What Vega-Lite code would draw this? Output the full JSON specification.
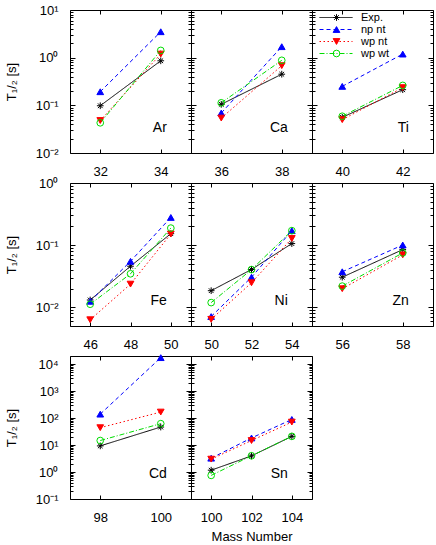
{
"$schema": "https://vega.github.io/schema/vega-lite/v6.json",
"padding": {"left": 4, "top": 3, "right": 0, "bottom": 0},
"background": "white",
"data": {"values": [
{"el":"Ar","A":32,"s":"Exp.","T":0.098},{"el":"Ar","A":34,"s":"Exp.","T":0.86},
{"el":"Ar","A":32,"s":"np nt","T":0.193},{"el":"Ar","A":34,"s":"np nt","T":3.5},
{"el":"Ar","A":32,"s":"wp nt","T":0.048},{"el":"Ar","A":34,"s":"wp nt","T":1.19},
{"el":"Ar","A":32,"s":"wp wt","T":0.043},{"el":"Ar","A":34,"s":"wp wt","T":1.42},
{"el":"Ca","A":36,"s":"Exp.","T":0.105},{"el":"Ca","A":38,"s":"Exp.","T":0.45},
{"el":"Ca","A":36,"s":"np nt","T":0.069},{"el":"Ca","A":38,"s":"np nt","T":1.7},
{"el":"Ca","A":36,"s":"wp nt","T":0.054},{"el":"Ca","A":38,"s":"wp nt","T":0.68},
{"el":"Ca","A":36,"s":"wp wt","T":0.113},{"el":"Ca","A":38,"s":"wp wt","T":0.88},
{"el":"Ti","A":40,"s":"Exp.","T":0.056},{"el":"Ti","A":42,"s":"Exp.","T":0.213},
{"el":"Ti","A":40,"s":"np nt","T":0.25},{"el":"Ti","A":42,"s":"np nt","T":1.19},
{"el":"Ti","A":40,"s":"wp nt","T":0.05},{"el":"Ti","A":42,"s":"wp nt","T":0.235},
{"el":"Ti","A":40,"s":"wp wt","T":0.059},{"el":"Ti","A":42,"s":"wp wt","T":0.262},
{"el":"Fe","A":46,"s":"Exp.","T":0.0131},{"el":"Fe","A":48,"s":"Exp.","T":0.0458},{"el":"Fe","A":50,"s":"Exp.","T":0.153},
{"el":"Fe","A":46,"s":"np nt","T":0.0125},{"el":"Fe","A":48,"s":"np nt","T":0.055},{"el":"Fe","A":50,"s":"np nt","T":0.279},
{"el":"Fe","A":46,"s":"wp nt","T":0.0063},{"el":"Fe","A":48,"s":"wp nt","T":0.0236},{"el":"Fe","A":50,"s":"wp nt","T":0.151},
{"el":"Fe","A":46,"s":"wp wt","T":0.0112},{"el":"Fe","A":48,"s":"wp wt","T":0.0346},{"el":"Fe","A":50,"s":"wp wt","T":0.188},
{"el":"Ni","A":50,"s":"Exp.","T":0.0185},{"el":"Ni","A":52,"s":"Exp.","T":0.0406},{"el":"Ni","A":54,"s":"Exp.","T":0.106},
{"el":"Ni","A":50,"s":"np nt","T":0.0071},{"el":"Ni","A":52,"s":"np nt","T":0.0305},{"el":"Ni","A":54,"s":"np nt","T":0.171},
{"el":"Ni","A":50,"s":"wp nt","T":0.0064},{"el":"Ni","A":52,"s":"wp nt","T":0.0248},{"el":"Ni","A":54,"s":"wp nt","T":0.128},
{"el":"Ni","A":50,"s":"wp wt","T":0.0119},{"el":"Ni","A":52,"s":"wp wt","T":0.0404},{"el":"Ni","A":54,"s":"wp wt","T":0.171},
{"el":"Zn","A":56,"s":"Exp.","T":0.0305},{"el":"Zn","A":58,"s":"Exp.","T":0.0848},
{"el":"Zn","A":56,"s":"np nt","T":0.0373},{"el":"Zn","A":58,"s":"np nt","T":0.1006},
{"el":"Zn","A":56,"s":"wp nt","T":0.0199},{"el":"Zn","A":58,"s":"wp nt","T":0.0697},
{"el":"Zn","A":56,"s":"wp wt","T":0.0219},{"el":"Zn","A":58,"s":"wp wt","T":0.075},
{"el":"Cd","A":98,"s":"Exp.","T":9.3},{"el":"Cd","A":100,"s":"Exp.","T":46.5},
{"el":"Cd","A":98,"s":"np nt","T":140},{"el":"Cd","A":100,"s":"np nt","T":17400},
{"el":"Cd","A":98,"s":"wp nt","T":44},{"el":"Cd","A":100,"s":"wp nt","T":167},
{"el":"Cd","A":98,"s":"wp wt","T":14.7},{"el":"Cd","A":100,"s":"wp wt","T":62},
{"el":"Sn","A":100,"s":"Exp.","T":1.17},{"el":"Sn","A":102,"s":"Exp.","T":3.96},{"el":"Sn","A":104,"s":"Exp.","T":21},
{"el":"Sn","A":100,"s":"np nt","T":3.26},{"el":"Sn","A":102,"s":"np nt","T":18.3},{"el":"Sn","A":104,"s":"np nt","T":89},
{"el":"Sn","A":100,"s":"wp nt","T":3.0},{"el":"Sn","A":102,"s":"wp nt","T":14.7},{"el":"Sn","A":104,"s":"wp nt","T":71},
{"el":"Sn","A":100,"s":"wp wt","T":0.75},{"el":"Sn","A":102,"s":"wp wt","T":4.0},{"el":"Sn","A":104,"s":"wp wt","T":21}
]},
"columns": 3,
"spacing": {"row": 30, "column": 0},
"bounds": "flush",
"concat": [
{"width":121,"height":143,"transform":[{"filter":"datum.el === 'Ar'"}],
 "layer":[
  {"mark":{"type":"line","strokeWidth":1},"encoding":{
   "x":{"field":"A","type":"quantitative","scale":{"domain":[31,35],"nice":false,"zero":false},"axis":{"orient":"bottom","values":[32,34],"tickSize":-4,"labelPadding":16,"title":null}},
   "y":{"field":"T","type":"quantitative","scale":{"type":"log","domain":[0.01,10],"nice":false},"axis":{"orient":"left","values":[0.01,0.02,0.03,0.04,0.05,0.06,0.07,0.08,0.09,0.1,0.2,0.3,0.4,0.5,0.6,0.7,0.8,0.9,1,2,3,4,5,6,7,8,9,10],"labelExpr":"abs(log(datum.value)/LN10 - round(log(datum.value)/LN10)) < 0.001 ? '10' + (round(log(datum.value)/LN10) < 0 ? '⁻' : '') + ['⁰','¹','²','³','⁴'][abs(round(log(datum.value)/LN10))] : ''","tickSize":{"condition":{"test":"abs(log(datum.value)/LN10 - round(log(datum.value)/LN10)) < 0.001","value":-5},"value":-3},"labelPadding":17,"title":"T₁/₂ [s]","titlePadding":17}},
   "color":{"field":"s","type":"nominal","scale":{"range":["#000000","#0000ff","#ff0000","#00dd00"]},"legend":{"title":null,"orient":"none","legendX":249,"legendY":2,"symbolType":"stroke","symbolSize":1089,"symbolStrokeWidth":1,"labelOffset":8,"rowPadding":0,"clipHeight":11,"padding":0,"labelFontSize":11}},
   "strokeDash":{"field":"s","type":"nominal","scale":{"range":[[1,0],[4,3],[1.5,2.5],[5,2,1,2]]}}}},
  {"mark":{"type":"point","opacity":1,"strokeWidth":1,"size":45},"encoding":{
   "x":{"field":"A","type":"quantitative","axis":null},"y":{"field":"T","type":"quantitative","axis":null},
   "shape":{"field":"s","type":"nominal","scale":{"domain":["Exp.","np nt","wp nt","wp wt"],"range":["M-1,0L1,0M0,-1L0,1M-0.7,-0.7L0.7,0.7M-0.7,0.7L0.7,-0.7","triangle-up","triangle-down","circle"]},"legend":{"title":null,"orient":"none","legendX":261,"legendY":2,"labelExpr":"''","symbolSize":45,"symbolStrokeWidth":1,"rowPadding":0,"clipHeight":11,"padding":0,"labelFontSize":11}},
   "fill":{"field":"s","type":"nominal","scale":{"domain":["Exp.","np nt","wp nt","wp wt"],"range":["transparent","#0000ff","#ff0000","transparent"]}},
   "stroke":{"field":"s","type":"nominal","scale":{"domain":["Exp.","np nt","wp nt","wp wt"],"range":["#000000","#0000ff","#ff0000","#00dd00"]}}}},
  {"transform":[{"aggregate":[{"op":"count","as":"n"}],"groupby":["el"]}],"mark":{"type":"text","align":"right","baseline":"alphabetic","fontSize":14,"font":"Liberation Sans","color":"black"},"encoding":{
   "x":{"datum":34.2,"type":"quantitative","axis":null},"y":{"datum":0.0277,"type":"quantitative","axis":null},"text":{"field":"el","type":"nominal"}}},
  {"mark":{"type":"point","opacity":0},"encoding":{
   "x":{"field":"A","type":"quantitative","axis":{"orient":"top","values":[32,34],"labels":false,"tickSize":-4,"title":null}},
   "y":{"field":"T","type":"quantitative","axis":{"orient":"right","values":[0.01,0.02,0.03,0.04,0.05,0.06,0.07,0.08,0.09,0.1,0.2,0.3,0.4,0.5,0.6,0.7,0.8,0.9,1,2,3,4,5,6,7,8,9,10],"labels":false,"tickSize":{"condition":{"test":"abs(log(datum.value)/LN10 - round(log(datum.value)/LN10)) < 0.001","value":-5},"value":-3},"title":null}}}}
 ],
 "resolve":{"axis":{"x":"independent","y":"independent"}}},
{"width":121,"height":143,"transform":[{"filter":"datum.el === 'Ca'"}],
 "layer":[
  {"mark":{"type":"line","strokeWidth":1},"encoding":{
   "x":{"field":"A","type":"quantitative","scale":{"domain":[35,39],"nice":false,"zero":false},"axis":{"orient":"bottom","values":[36,38],"tickSize":-4,"labelPadding":16,"title":null}},
   "y":{"field":"T","type":"quantitative","scale":{"type":"log","domain":[0.01,10],"nice":false},"axis":{"orient":"left","values":[0.01,0.02,0.03,0.04,0.05,0.06,0.07,0.08,0.09,0.1,0.2,0.3,0.4,0.5,0.6,0.7,0.8,0.9,1,2,3,4,5,6,7,8,9,10],"labels":false,"tickSize":{"condition":{"test":"abs(log(datum.value)/LN10 - round(log(datum.value)/LN10)) < 0.001","value":-5},"value":-3},"title":null}},
   "color":{"field":"s","type":"nominal","scale":{"range":["#000000","#0000ff","#ff0000","#00dd00"]},"legend":{"title":null,"orient":"none","legendX":249,"legendY":2,"symbolType":"stroke","symbolSize":1089,"symbolStrokeWidth":1,"labelOffset":8,"rowPadding":0,"clipHeight":11,"padding":0,"labelFontSize":11}},
   "strokeDash":{"field":"s","type":"nominal","scale":{"range":[[1,0],[4,3],[1.5,2.5],[5,2,1,2]]}}}},
  {"mark":{"type":"point","opacity":1,"strokeWidth":1,"size":45},"encoding":{
   "x":{"field":"A","type":"quantitative","axis":null},"y":{"field":"T","type":"quantitative","axis":null},
   "shape":{"field":"s","type":"nominal","scale":{"domain":["Exp.","np nt","wp nt","wp wt"],"range":["M-1,0L1,0M0,-1L0,1M-0.7,-0.7L0.7,0.7M-0.7,0.7L0.7,-0.7","triangle-up","triangle-down","circle"]},"legend":{"title":null,"orient":"none","legendX":261,"legendY":2,"labelExpr":"''","symbolSize":45,"symbolStrokeWidth":1,"rowPadding":0,"clipHeight":11,"padding":0,"labelFontSize":11}},
   "fill":{"field":"s","type":"nominal","scale":{"domain":["Exp.","np nt","wp nt","wp wt"],"range":["transparent","#0000ff","#ff0000","transparent"]}},
   "stroke":{"field":"s","type":"nominal","scale":{"domain":["Exp.","np nt","wp nt","wp wt"],"range":["#000000","#0000ff","#ff0000","#00dd00"]}}}},
  {"transform":[{"aggregate":[{"op":"count","as":"n"}],"groupby":["el"]}],"mark":{"type":"text","align":"right","baseline":"alphabetic","fontSize":14,"font":"Liberation Sans","color":"black"},"encoding":{
   "x":{"datum":38.2,"type":"quantitative","axis":null},"y":{"datum":0.0277,"type":"quantitative","axis":null},"text":{"field":"el","type":"nominal"}}},
  {"mark":{"type":"point","opacity":0},"encoding":{
   "x":{"field":"A","type":"quantitative","axis":{"orient":"top","values":[36,38],"labels":false,"tickSize":-4,"title":null}},
   "y":{"field":"T","type":"quantitative","axis":{"orient":"right","values":[0.01,0.02,0.03,0.04,0.05,0.06,0.07,0.08,0.09,0.1,0.2,0.3,0.4,0.5,0.6,0.7,0.8,0.9,1,2,3,4,5,6,7,8,9,10],"labels":false,"tickSize":{"condition":{"test":"abs(log(datum.value)/LN10 - round(log(datum.value)/LN10)) < 0.001","value":-5},"value":-3},"title":null}}}}
 ],
 "resolve":{"axis":{"x":"independent","y":"independent"}}},
{"width":121,"height":143,"transform":[{"filter":"datum.el === 'Ti'"}],
 "layer":[
  {"mark":{"type":"line","strokeWidth":1},"encoding":{
   "x":{"field":"A","type":"quantitative","scale":{"domain":[39,43],"nice":false,"zero":false},"axis":{"orient":"bottom","values":[40,42],"tickSize":-4,"labelPadding":16,"title":null}},
   "y":{"field":"T","type":"quantitative","scale":{"type":"log","domain":[0.01,10],"nice":false},"axis":{"orient":"left","values":[0.01,0.02,0.03,0.04,0.05,0.06,0.07,0.08,0.09,0.1,0.2,0.3,0.4,0.5,0.6,0.7,0.8,0.9,1,2,3,4,5,6,7,8,9,10],"labels":false,"tickSize":{"condition":{"test":"abs(log(datum.value)/LN10 - round(log(datum.value)/LN10)) < 0.001","value":-5},"value":-3},"title":null}},
   "color":{"field":"s","type":"nominal","scale":{"range":["#000000","#0000ff","#ff0000","#00dd00"]},"legend":{"title":null,"orient":"none","legendX":249,"legendY":2,"symbolType":"stroke","symbolSize":1089,"symbolStrokeWidth":1,"labelOffset":8,"rowPadding":0,"clipHeight":11,"padding":0,"labelFontSize":11}},
   "strokeDash":{"field":"s","type":"nominal","scale":{"range":[[1,0],[4,3],[1.5,2.5],[5,2,1,2]]}}}},
  {"mark":{"type":"point","opacity":1,"strokeWidth":1,"size":45},"encoding":{
   "x":{"field":"A","type":"quantitative","axis":null},"y":{"field":"T","type":"quantitative","axis":null},
   "shape":{"field":"s","type":"nominal","scale":{"domain":["Exp.","np nt","wp nt","wp wt"],"range":["M-1,0L1,0M0,-1L0,1M-0.7,-0.7L0.7,0.7M-0.7,0.7L0.7,-0.7","triangle-up","triangle-down","circle"]},"legend":{"title":null,"orient":"none","legendX":261,"legendY":2,"labelExpr":"''","symbolSize":45,"symbolStrokeWidth":1,"rowPadding":0,"clipHeight":11,"padding":0,"labelFontSize":11}},
   "fill":{"field":"s","type":"nominal","scale":{"domain":["Exp.","np nt","wp nt","wp wt"],"range":["transparent","#0000ff","#ff0000","transparent"]}},
   "stroke":{"field":"s","type":"nominal","scale":{"domain":["Exp.","np nt","wp nt","wp wt"],"range":["#000000","#0000ff","#ff0000","#00dd00"]}}}},
  {"transform":[{"aggregate":[{"op":"count","as":"n"}],"groupby":["el"]}],"mark":{"type":"text","align":"right","baseline":"alphabetic","fontSize":14,"font":"Liberation Sans","color":"black"},"encoding":{
   "x":{"datum":42.2,"type":"quantitative","axis":null},"y":{"datum":0.0277,"type":"quantitative","axis":null},"text":{"field":"el","type":"nominal"}}},
  {"mark":{"type":"point","opacity":0},"encoding":{
   "x":{"field":"A","type":"quantitative","axis":{"orient":"top","values":[40,42],"labels":false,"tickSize":-4,"title":null}},
   "y":{"field":"T","type":"quantitative","axis":{"orient":"right","values":[0.01,0.02,0.03,0.04,0.05,0.06,0.07,0.08,0.09,0.1,0.2,0.3,0.4,0.5,0.6,0.7,0.8,0.9,1,2,3,4,5,6,7,8,9,10],"labels":false,"tickSize":{"condition":{"test":"abs(log(datum.value)/LN10 - round(log(datum.value)/LN10)) < 0.001","value":-5},"value":-3},"title":null}}}}
 ],
 "resolve":{"axis":{"x":"independent","y":"independent"}}},
{"width":121,"height":143,"transform":[{"filter":"datum.el === 'Fe'"}],
 "layer":[
  {"mark":{"type":"line","strokeWidth":1},"encoding":{
   "x":{"field":"A","type":"quantitative","scale":{"domain":[45,51],"nice":false,"zero":false},"axis":{"orient":"bottom","values":[46,48,50],"tickSize":-4,"labelPadding":16,"title":null}},
   "y":{"field":"T","type":"quantitative","scale":{"type":"log","domain":[0.005,1],"nice":false},"axis":{"orient":"left","values":[0.005,0.006,0.007,0.008,0.009,0.01,0.02,0.03,0.04,0.05,0.06,0.07,0.08,0.09,0.1,0.2,0.3,0.4,0.5,0.6,0.7,0.8,0.9,1],"labelExpr":"abs(log(datum.value)/LN10 - round(log(datum.value)/LN10)) < 0.001 ? '10' + (round(log(datum.value)/LN10) < 0 ? '⁻' : '') + ['⁰','¹','²','³','⁴'][abs(round(log(datum.value)/LN10))] : ''","tickSize":{"condition":{"test":"abs(log(datum.value)/LN10 - round(log(datum.value)/LN10)) < 0.001","value":-5},"value":-3},"labelPadding":17,"title":"T₁/₂ [s]","titlePadding":17}},
   "color":{"field":"s","type":"nominal","scale":{"range":["#000000","#0000ff","#ff0000","#00dd00"]},"legend":{"title":null,"orient":"none","legendX":249,"legendY":2,"symbolType":"stroke","symbolSize":1089,"symbolStrokeWidth":1,"labelOffset":8,"rowPadding":0,"clipHeight":11,"padding":0,"labelFontSize":11}},
   "strokeDash":{"field":"s","type":"nominal","scale":{"range":[[1,0],[4,3],[1.5,2.5],[5,2,1,2]]}}}},
  {"mark":{"type":"point","opacity":1,"strokeWidth":1,"size":45},"encoding":{
   "x":{"field":"A","type":"quantitative","axis":null},"y":{"field":"T","type":"quantitative","axis":null},
   "shape":{"field":"s","type":"nominal","scale":{"domain":["Exp.","np nt","wp nt","wp wt"],"range":["M-1,0L1,0M0,-1L0,1M-0.7,-0.7L0.7,0.7M-0.7,0.7L0.7,-0.7","triangle-up","triangle-down","circle"]},"legend":{"title":null,"orient":"none","legendX":261,"legendY":2,"labelExpr":"''","symbolSize":45,"symbolStrokeWidth":1,"rowPadding":0,"clipHeight":11,"padding":0,"labelFontSize":11}},
   "fill":{"field":"s","type":"nominal","scale":{"domain":["Exp.","np nt","wp nt","wp wt"],"range":["transparent","#0000ff","#ff0000","transparent"]}},
   "stroke":{"field":"s","type":"nominal","scale":{"domain":["Exp.","np nt","wp nt","wp wt"],"range":["#000000","#0000ff","#ff0000","#00dd00"]}}}},
  {"transform":[{"aggregate":[{"op":"count","as":"n"}],"groupby":["el"]}],"mark":{"type":"text","align":"right","baseline":"alphabetic","fontSize":14,"font":"Liberation Sans","color":"black"},"encoding":{
   "x":{"datum":49.8,"type":"quantitative","axis":null},"y":{"datum":0.0109,"type":"quantitative","axis":null},"text":{"field":"el","type":"nominal"}}},
  {"mark":{"type":"point","opacity":0},"encoding":{
   "x":{"field":"A","type":"quantitative","axis":{"orient":"top","values":[46,48,50],"labels":false,"tickSize":-4,"title":null}},
   "y":{"field":"T","type":"quantitative","axis":{"orient":"right","values":[0.005,0.006,0.007,0.008,0.009,0.01,0.02,0.03,0.04,0.05,0.06,0.07,0.08,0.09,0.1,0.2,0.3,0.4,0.5,0.6,0.7,0.8,0.9,1],"labels":false,"tickSize":{"condition":{"test":"abs(log(datum.value)/LN10 - round(log(datum.value)/LN10)) < 0.001","value":-5},"value":-3},"title":null}}}}
 ],
 "resolve":{"axis":{"x":"independent","y":"independent"}}},
{"width":121,"height":143,"transform":[{"filter":"datum.el === 'Ni'"}],
 "layer":[
  {"mark":{"type":"line","strokeWidth":1},"encoding":{
   "x":{"field":"A","type":"quantitative","scale":{"domain":[49,55],"nice":false,"zero":false},"axis":{"orient":"bottom","values":[50,52,54],"tickSize":-4,"labelPadding":16,"title":null}},
   "y":{"field":"T","type":"quantitative","scale":{"type":"log","domain":[0.005,1],"nice":false},"axis":{"orient":"left","values":[0.005,0.006,0.007,0.008,0.009,0.01,0.02,0.03,0.04,0.05,0.06,0.07,0.08,0.09,0.1,0.2,0.3,0.4,0.5,0.6,0.7,0.8,0.9,1],"labels":false,"tickSize":{"condition":{"test":"abs(log(datum.value)/LN10 - round(log(datum.value)/LN10)) < 0.001","value":-5},"value":-3},"title":null}},
   "color":{"field":"s","type":"nominal","scale":{"range":["#000000","#0000ff","#ff0000","#00dd00"]},"legend":{"title":null,"orient":"none","legendX":249,"legendY":2,"symbolType":"stroke","symbolSize":1089,"symbolStrokeWidth":1,"labelOffset":8,"rowPadding":0,"clipHeight":11,"padding":0,"labelFontSize":11}},
   "strokeDash":{"field":"s","type":"nominal","scale":{"range":[[1,0],[4,3],[1.5,2.5],[5,2,1,2]]}}}},
  {"mark":{"type":"point","opacity":1,"strokeWidth":1,"size":45},"encoding":{
   "x":{"field":"A","type":"quantitative","axis":null},"y":{"field":"T","type":"quantitative","axis":null},
   "shape":{"field":"s","type":"nominal","scale":{"domain":["Exp.","np nt","wp nt","wp wt"],"range":["M-1,0L1,0M0,-1L0,1M-0.7,-0.7L0.7,0.7M-0.7,0.7L0.7,-0.7","triangle-up","triangle-down","circle"]},"legend":{"title":null,"orient":"none","legendX":261,"legendY":2,"labelExpr":"''","symbolSize":45,"symbolStrokeWidth":1,"rowPadding":0,"clipHeight":11,"padding":0,"labelFontSize":11}},
   "fill":{"field":"s","type":"nominal","scale":{"domain":["Exp.","np nt","wp nt","wp wt"],"range":["transparent","#0000ff","#ff0000","transparent"]}},
   "stroke":{"field":"s","type":"nominal","scale":{"domain":["Exp.","np nt","wp nt","wp wt"],"range":["#000000","#0000ff","#ff0000","#00dd00"]}}}},
  {"transform":[{"aggregate":[{"op":"count","as":"n"}],"groupby":["el"]}],"mark":{"type":"text","align":"right","baseline":"alphabetic","fontSize":14,"font":"Liberation Sans","color":"black"},"encoding":{
   "x":{"datum":53.8,"type":"quantitative","axis":null},"y":{"datum":0.0109,"type":"quantitative","axis":null},"text":{"field":"el","type":"nominal"}}},
  {"mark":{"type":"point","opacity":0},"encoding":{
   "x":{"field":"A","type":"quantitative","axis":{"orient":"top","values":[50,52,54],"labels":false,"tickSize":-4,"title":null}},
   "y":{"field":"T","type":"quantitative","axis":{"orient":"right","values":[0.005,0.006,0.007,0.008,0.009,0.01,0.02,0.03,0.04,0.05,0.06,0.07,0.08,0.09,0.1,0.2,0.3,0.4,0.5,0.6,0.7,0.8,0.9,1],"labels":false,"tickSize":{"condition":{"test":"abs(log(datum.value)/LN10 - round(log(datum.value)/LN10)) < 0.001","value":-5},"value":-3},"title":null}}}}
 ],
 "resolve":{"axis":{"x":"independent","y":"independent"}}},
{"width":121,"height":143,"transform":[{"filter":"datum.el === 'Zn'"}],
 "layer":[
  {"mark":{"type":"line","strokeWidth":1},"encoding":{
   "x":{"field":"A","type":"quantitative","scale":{"domain":[55,59],"nice":false,"zero":false},"axis":{"orient":"bottom","values":[56,58],"tickSize":-4,"labelPadding":16,"title":null}},
   "y":{"field":"T","type":"quantitative","scale":{"type":"log","domain":[0.005,1],"nice":false},"axis":{"orient":"left","values":[0.005,0.006,0.007,0.008,0.009,0.01,0.02,0.03,0.04,0.05,0.06,0.07,0.08,0.09,0.1,0.2,0.3,0.4,0.5,0.6,0.7,0.8,0.9,1],"labels":false,"tickSize":{"condition":{"test":"abs(log(datum.value)/LN10 - round(log(datum.value)/LN10)) < 0.001","value":-5},"value":-3},"title":null}},
   "color":{"field":"s","type":"nominal","scale":{"range":["#000000","#0000ff","#ff0000","#00dd00"]},"legend":{"title":null,"orient":"none","legendX":249,"legendY":2,"symbolType":"stroke","symbolSize":1089,"symbolStrokeWidth":1,"labelOffset":8,"rowPadding":0,"clipHeight":11,"padding":0,"labelFontSize":11}},
   "strokeDash":{"field":"s","type":"nominal","scale":{"range":[[1,0],[4,3],[1.5,2.5],[5,2,1,2]]}}}},
  {"mark":{"type":"point","opacity":1,"strokeWidth":1,"size":45},"encoding":{
   "x":{"field":"A","type":"quantitative","axis":null},"y":{"field":"T","type":"quantitative","axis":null},
   "shape":{"field":"s","type":"nominal","scale":{"domain":["Exp.","np nt","wp nt","wp wt"],"range":["M-1,0L1,0M0,-1L0,1M-0.7,-0.7L0.7,0.7M-0.7,0.7L0.7,-0.7","triangle-up","triangle-down","circle"]},"legend":{"title":null,"orient":"none","legendX":261,"legendY":2,"labelExpr":"''","symbolSize":45,"symbolStrokeWidth":1,"rowPadding":0,"clipHeight":11,"padding":0,"labelFontSize":11}},
   "fill":{"field":"s","type":"nominal","scale":{"domain":["Exp.","np nt","wp nt","wp wt"],"range":["transparent","#0000ff","#ff0000","transparent"]}},
   "stroke":{"field":"s","type":"nominal","scale":{"domain":["Exp.","np nt","wp nt","wp wt"],"range":["#000000","#0000ff","#ff0000","#00dd00"]}}}},
  {"transform":[{"aggregate":[{"op":"count","as":"n"}],"groupby":["el"]}],"mark":{"type":"text","align":"right","baseline":"alphabetic","fontSize":14,"font":"Liberation Sans","color":"black"},"encoding":{
   "x":{"datum":58.2,"type":"quantitative","axis":null},"y":{"datum":0.0109,"type":"quantitative","axis":null},"text":{"field":"el","type":"nominal"}}},
  {"mark":{"type":"point","opacity":0},"encoding":{
   "x":{"field":"A","type":"quantitative","axis":{"orient":"top","values":[56,58],"labels":false,"tickSize":-4,"title":null}},
   "y":{"field":"T","type":"quantitative","axis":{"orient":"right","values":[0.005,0.006,0.007,0.008,0.009,0.01,0.02,0.03,0.04,0.05,0.06,0.07,0.08,0.09,0.1,0.2,0.3,0.4,0.5,0.6,0.7,0.8,0.9,1],"labels":false,"tickSize":{"condition":{"test":"abs(log(datum.value)/LN10 - round(log(datum.value)/LN10)) < 0.001","value":-5},"value":-3},"title":null}}}}
 ],
 "resolve":{"axis":{"x":"independent","y":"independent"}}},
{"width":121,"height":143,"transform":[{"filter":"datum.el === 'Cd'"}],
 "layer":[
  {"mark":{"type":"line","strokeWidth":1},"encoding":{
   "x":{"field":"A","type":"quantitative","scale":{"domain":[97,101],"nice":false,"zero":false},"axis":{"orient":"bottom","values":[98,100],"tickSize":-4,"labelPadding":16,"title":null}},
   "y":{"field":"T","type":"quantitative","scale":{"type":"log","domain":[0.1,20000],"nice":false},"axis":{"orient":"left","values":[0.1,0.2,0.3,0.4,0.5,0.6,0.7,0.8,0.9,1,2,3,4,5,6,7,8,9,10,20,30,40,50,60,70,80,90,100,200,300,400,500,600,700,800,900,1000,2000,3000,4000,5000,6000,7000,8000,9000,10000,20000],"labelExpr":"abs(log(datum.value)/LN10 - round(log(datum.value)/LN10)) < 0.001 ? '10' + (round(log(datum.value)/LN10) < 0 ? '⁻' : '') + ['⁰','¹','²','³','⁴'][abs(round(log(datum.value)/LN10))] : ''","tickSize":{"condition":{"test":"abs(log(datum.value)/LN10 - round(log(datum.value)/LN10)) < 0.001","value":-5},"value":-3},"labelPadding":17,"title":"T₁/₂ [s]","titlePadding":17}},
   "color":{"field":"s","type":"nominal","scale":{"range":["#000000","#0000ff","#ff0000","#00dd00"]},"legend":{"title":null,"orient":"none","legendX":249,"legendY":2,"symbolType":"stroke","symbolSize":1089,"symbolStrokeWidth":1,"labelOffset":8,"rowPadding":0,"clipHeight":11,"padding":0,"labelFontSize":11}},
   "strokeDash":{"field":"s","type":"nominal","scale":{"range":[[1,0],[4,3],[1.5,2.5],[5,2,1,2]]}}}},
  {"mark":{"type":"point","opacity":1,"strokeWidth":1,"size":45},"encoding":{
   "x":{"field":"A","type":"quantitative","axis":null},"y":{"field":"T","type":"quantitative","axis":null},
   "shape":{"field":"s","type":"nominal","scale":{"domain":["Exp.","np nt","wp nt","wp wt"],"range":["M-1,0L1,0M0,-1L0,1M-0.7,-0.7L0.7,0.7M-0.7,0.7L0.7,-0.7","triangle-up","triangle-down","circle"]},"legend":{"title":null,"orient":"none","legendX":261,"legendY":2,"labelExpr":"''","symbolSize":45,"symbolStrokeWidth":1,"rowPadding":0,"clipHeight":11,"padding":0,"labelFontSize":11}},
   "fill":{"field":"s","type":"nominal","scale":{"domain":["Exp.","np nt","wp nt","wp wt"],"range":["transparent","#0000ff","#ff0000","transparent"]}},
   "stroke":{"field":"s","type":"nominal","scale":{"domain":["Exp.","np nt","wp nt","wp wt"],"range":["#000000","#0000ff","#ff0000","#00dd00"]}}}},
  {"transform":[{"aggregate":[{"op":"count","as":"n"}],"groupby":["el"]}],"mark":{"type":"text","align":"right","baseline":"alphabetic","fontSize":14,"font":"Liberation Sans","color":"black"},"encoding":{
   "x":{"datum":100.2,"type":"quantitative","axis":null},"y":{"datum":0.6,"type":"quantitative","axis":null},"text":{"field":"el","type":"nominal"}}},
  {"mark":{"type":"point","opacity":0},"encoding":{
   "x":{"field":"A","type":"quantitative","axis":{"orient":"top","values":[98,100],"labels":false,"tickSize":-4,"title":null}},
   "y":{"field":"T","type":"quantitative","axis":{"orient":"right","values":[0.1,0.2,0.3,0.4,0.5,0.6,0.7,0.8,0.9,1,2,3,4,5,6,7,8,9,10,20,30,40,50,60,70,80,90,100,200,300,400,500,600,700,800,900,1000,2000,3000,4000,5000,6000,7000,8000,9000,10000,20000],"labels":false,"tickSize":{"condition":{"test":"abs(log(datum.value)/LN10 - round(log(datum.value)/LN10)) < 0.001","value":-5},"value":-3},"title":null}}}}
 ],
 "resolve":{"axis":{"x":"independent","y":"independent"}}},
{"width":121,"height":143,"transform":[{"filter":"datum.el === 'Sn'"}],
 "layer":[
  {"mark":{"type":"line","strokeWidth":1},"encoding":{
   "x":{"field":"A","type":"quantitative","scale":{"domain":[99,105],"nice":false,"zero":false},"axis":{"orient":"bottom","values":[100,102,104],"tickSize":-4,"labelPadding":16,"title":"Mass Number","titlePadding":6}},
   "y":{"field":"T","type":"quantitative","scale":{"type":"log","domain":[0.1,20000],"nice":false},"axis":{"orient":"left","values":[0.1,0.2,0.3,0.4,0.5,0.6,0.7,0.8,0.9,1,2,3,4,5,6,7,8,9,10,20,30,40,50,60,70,80,90,100,200,300,400,500,600,700,800,900,1000,2000,3000,4000,5000,6000,7000,8000,9000,10000,20000],"labels":false,"tickSize":{"condition":{"test":"abs(log(datum.value)/LN10 - round(log(datum.value)/LN10)) < 0.001","value":-5},"value":-3},"title":null}},
   "color":{"field":"s","type":"nominal","scale":{"range":["#000000","#0000ff","#ff0000","#00dd00"]},"legend":{"title":null,"orient":"none","legendX":249,"legendY":2,"symbolType":"stroke","symbolSize":1089,"symbolStrokeWidth":1,"labelOffset":8,"rowPadding":0,"clipHeight":11,"padding":0,"labelFontSize":11}},
   "strokeDash":{"field":"s","type":"nominal","scale":{"range":[[1,0],[4,3],[1.5,2.5],[5,2,1,2]]}}}},
  {"mark":{"type":"point","opacity":1,"strokeWidth":1,"size":45},"encoding":{
   "x":{"field":"A","type":"quantitative","axis":null},"y":{"field":"T","type":"quantitative","axis":null},
   "shape":{"field":"s","type":"nominal","scale":{"domain":["Exp.","np nt","wp nt","wp wt"],"range":["M-1,0L1,0M0,-1L0,1M-0.7,-0.7L0.7,0.7M-0.7,0.7L0.7,-0.7","triangle-up","triangle-down","circle"]},"legend":{"title":null,"orient":"none","legendX":261,"legendY":2,"labelExpr":"''","symbolSize":45,"symbolStrokeWidth":1,"rowPadding":0,"clipHeight":11,"padding":0,"labelFontSize":11}},
   "fill":{"field":"s","type":"nominal","scale":{"domain":["Exp.","np nt","wp nt","wp wt"],"range":["transparent","#0000ff","#ff0000","transparent"]}},
   "stroke":{"field":"s","type":"nominal","scale":{"domain":["Exp.","np nt","wp nt","wp wt"],"range":["#000000","#0000ff","#ff0000","#00dd00"]}}}},
  {"transform":[{"aggregate":[{"op":"count","as":"n"}],"groupby":["el"]}],"mark":{"type":"text","align":"right","baseline":"alphabetic","fontSize":14,"font":"Liberation Sans","color":"black"},"encoding":{
   "x":{"datum":103.8,"type":"quantitative","axis":null},"y":{"datum":0.6,"type":"quantitative","axis":null},"text":{"field":"el","type":"nominal"}}},
  {"mark":{"type":"point","opacity":0},"encoding":{
   "x":{"field":"A","type":"quantitative","axis":{"orient":"top","values":[100,102,104],"labels":false,"tickSize":-4,"title":null}},
   "y":{"field":"T","type":"quantitative","axis":{"orient":"right","values":[0.1,0.2,0.3,0.4,0.5,0.6,0.7,0.8,0.9,1,2,3,4,5,6,7,8,9,10,20,30,40,50,60,70,80,90,100,200,300,400,500,600,700,800,900,1000,2000,3000,4000,5000,6000,7000,8000,9000,10000,20000],"labels":false,"tickSize":{"condition":{"test":"abs(log(datum.value)/LN10 - round(log(datum.value)/LN10)) < 0.001","value":-5},"value":-3},"title":null}}}}
 ],
 "resolve":{"axis":{"x":"independent","y":"independent"}}}
],
"config": {
 "font": "Liberation Sans",
 "view": {"stroke": "black", "strokeWidth": 1},
 "axis": {"domain": false, "grid": false, "labelFlush": false, "labelOverlap": false, "labelFontSize": 13, "titleFontSize": 13, "titleFontWeight": "normal", "labelColor": "black", "titleColor": "black", "tickColor": "black", "tickWidth": 1, "labelFont": "Liberation Sans", "titleFont": "Liberation Sans"},
 "legend": {"labelFont": "Liberation Sans", "labelColor": "black"}
}
}
